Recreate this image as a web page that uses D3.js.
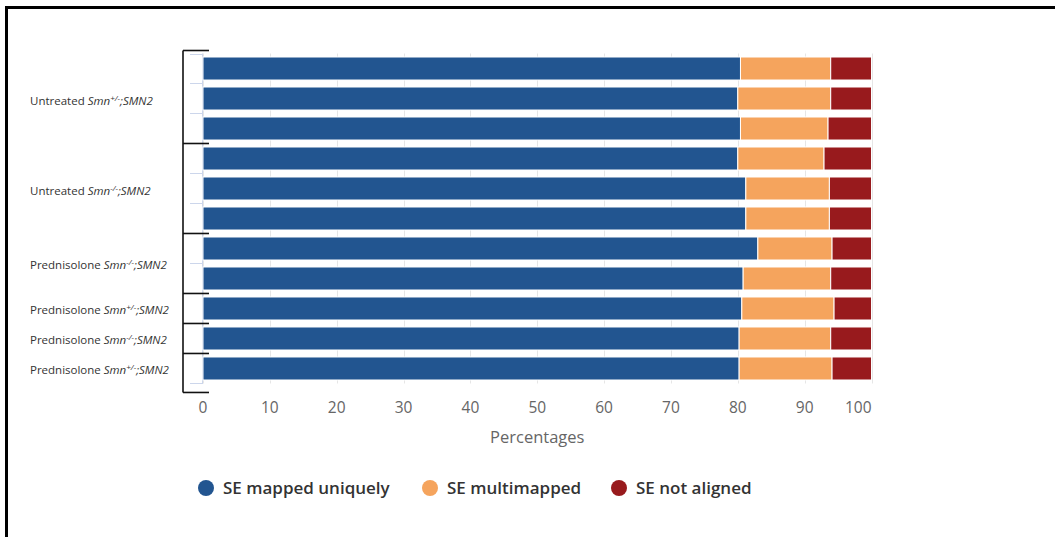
<!DOCTYPE html>
<html>
<head>
<meta charset="utf-8">
<script src="https://cdn.jsdelivr.net/npm/d3@7"></script>
<style>
  html, body { margin: 0; padding: 0; background: #fff; }
  svg { display: block; }
</style>
</head>
<body>
<svg id="chart" width="1055" height="537"></svg>
<script>
// Sample groups (one bracket + label per group) and how many libraries each holds
const groupTreatment = ["Untreated", "Untreated", "Prednisolone", "Prednisolone", "Prednisolone", "Prednisolone"];
const groupGenotype  = ["+/-", "-/-", "-/-", "+/-", "-/-", "+/-"];
const groupSize      = [3, 3, 2, 1, 1, 1];

// Per-library read fractions (%), top to bottom
const mappedUniquely = [80.4, 80.0, 80.4, 80.0, 81.2, 81.2, 83.0, 80.8, 80.6, 80.2, 80.2];
const multimapped    = [13.5, 13.9, 13.1, 12.9, 12.5, 12.5, 11.1, 13.1, 13.8, 13.7, 13.9];
const notAligned     = [6.1, 6.1, 6.5, 7.1, 6.3, 6.3, 5.9, 6.1, 5.6, 6.1, 5.9];

const seriesNames  = ["SE mapped uniquely", "SE multimapped", "SE not aligned"];
const seriesColors = ["#225590", "#f5a45d", "#981a1d"];
const xTicks       = [0, 10, 20, 30, 40, 50, 60, 70, 80, 90, 100];

const svg = d3.select("#chart");

// outer frame (top and left edges)
svg.append("line").attr("x1", 6.5).attr("x2", 1055).attr("y1", 7.5).attr("y2", 7.5)
  .attr("stroke", "#000").attr("stroke-width", 3);
svg.append("line").attr("x1", 6.5).attr("x2", 6.5).attr("y1", 6).attr("y2", 537)
  .attr("stroke", "#000").attr("stroke-width", 3);

const plot = { left: 203, right: 871.5, top: 53.5, bottom: 383.5 };

const rows = d3.range(mappedUniquely.length).map(i => ({
  id: i,
  values: [mappedUniquely[i], multimapped[i], notAligned[i]]
}));

const x = d3.scaleLinear().domain([0, 100]).range([plot.left, plot.right]);
const y = d3.scaleBand().domain(rows.map(r => r.id)).range([plot.top, plot.bottom])
  .paddingInner(0.233).paddingOuter(0.117);
const step = y.step();

// vertical grid lines
svg.append("g").selectAll("line").data(xTicks).join("line")
  .attr("x1", d => Math.round(x(d)) + 0.5).attr("x2", d => Math.round(x(d)) + 0.5)
  .attr("y1", plot.top).attr("y2", plot.bottom)
  .attr("stroke", "#e6e6e6").attr("stroke-width", 1);

// category axis: line plus ticks at row boundaries
const axisCol = "#ccd6eb";
svg.append("line").attr("x1", plot.left - 0.5).attr("x2", plot.left - 0.5)
  .attr("y1", plot.top).attr("y2", plot.bottom).attr("stroke", axisCol);
svg.append("g").selectAll("line").data(d3.range(rows.length + 1)).join("line")
  .attr("x1", plot.left - 13).attr("x2", plot.left)
  .attr("y1", i => Math.round(plot.top + i * step) + 0.5)
  .attr("y2", i => Math.round(plot.top + i * step) + 0.5)
  .attr("stroke", axisCol);

// stacked bars
const stack = rows.map(r => {
  let acc = 0;
  return r.values.map((v, k) => { const s = { id: r.id, k, x0: acc, x1: acc + v }; acc += v; return s; });
}).flat();

svg.append("g").selectAll("rect").data(stack).join("rect")
  .attr("x", d => x(d.x0))
  .attr("width", d => x(d.x1) - x(d.x0))
  .attr("y", d => y(d.id))
  .attr("height", y.bandwidth())
  .attr("fill", d => seriesColors[d.k])
  .attr("stroke", "#fff").attr("stroke-width", 1);

// x axis labels (last one kept inside the plot edge)
const tickFont = "'Open Sans', 'DejaVu Sans', sans-serif";
svg.append("g").selectAll("text").data(xTicks).join("text")
  .attr("x", d => x(d))
  .attr("y", 413)
  .attr("text-anchor", d => d === 100 ? "end" : "middle")
  .attr("font-family", tickFont).attr("font-size", 15.5).attr("fill", "#666")
  .text(d => d);

svg.append("text").attr("x", (plot.left + plot.right) / 2).attr("y", 443)
  .attr("text-anchor", "middle")
  .attr("font-family", tickFont).attr("font-size", 16.5).attr("fill", "#666")
  .text("Percentages");

// group brackets and labels
const bracketX = 183;
let start = 0;
const groups = groupSize.map((n, g) => {
  const o = { g, first: start, last: start + n - 1 };
  start += n;
  return o;
});
const edges = [plot.top - 3].concat(groups.map(o => plot.top + (o.last + 1) * step));
edges[edges.length - 1] += 9;

svg.append("line").attr("x1", bracketX).attr("x2", bracketX)
  .attr("y1", edges[0]).attr("y2", edges[edges.length - 1])
  .attr("stroke", "#111").attr("stroke-width", 1.6);
svg.append("g").selectAll("line").data(edges).join("line")
  .attr("x1", bracketX).attr("x2", bracketX + 26)
  .attr("y1", d => d).attr("y2", d => d)
  .attr("stroke", "#111").attr("stroke-width", 1.6);

const lbl = svg.append("g").selectAll("text").data(groups).join("text")
  .attr("x", 30)
  .attr("y", o => (y(o.first) + y(o.last) + y.bandwidth()) / 2 + 6)
  .attr("font-family", "'Open Sans', 'Liberation Sans', sans-serif")
  .attr("font-size", 11.5).attr("fill", "#333");
lbl.append("tspan").text(o => groupTreatment[o.g] + " ");
lbl.append("tspan").attr("font-style", "italic").text("Smn");
lbl.append("tspan").attr("font-style", "italic").attr("font-size", 8).attr("dy", -4)
  .text(o => groupGenotype[o.g]);
lbl.append("tspan").attr("font-style", "italic").attr("dy", 4).text(";SMN2");

// legend
const legendX = [206, 430, 619];
const leg = svg.append("g").selectAll("g").data(seriesNames).join("g")
  .attr("transform", (d, i) => `translate(${legendX[i]},488)`);
leg.append("circle").attr("r", 8).attr("fill", (d, i) => seriesColors[i]);
leg.append("text").attr("x", 17).attr("y", 6)
  .attr("font-family", tickFont).attr("font-size", 17).attr("font-weight", 600)
  .attr("fill", "#333").text(d => d);
</script>
</body>
</html>
